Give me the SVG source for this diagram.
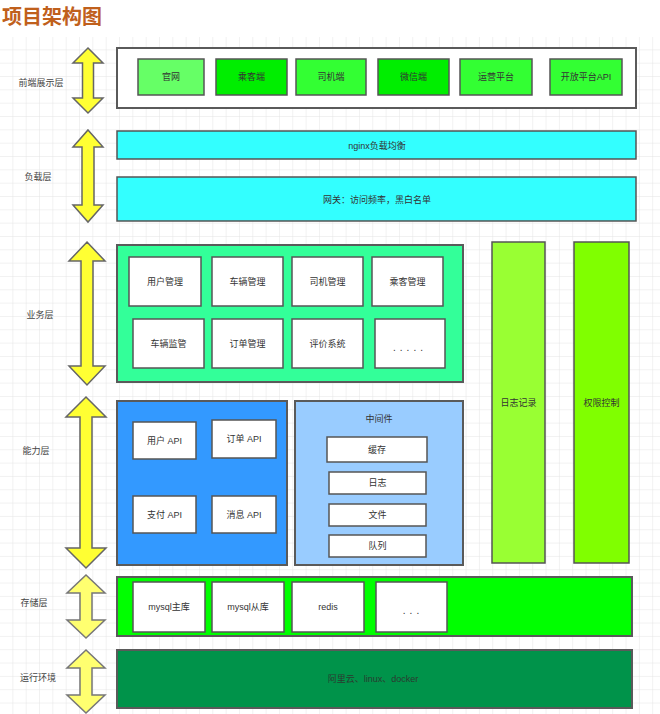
<svg xmlns="http://www.w3.org/2000/svg" width="660" height="714" viewBox="0 0 660 714">
<defs>
<pattern id="grid" x="0" y="37" width="13.33" height="13.33" patternUnits="userSpaceOnUse">
<path d="M13.33 0V13.33M0 13.33H13.33" fill="none" stroke="#e4e4e4" stroke-width="1"/>
</pattern>
<style>
text{font-family:"Liberation Sans","Noto Sans CJK SC",sans-serif;font-size:9px;fill:#333;text-anchor:middle;dominant-baseline:central}
.lbl{fill:#444}
.box{stroke:#555;stroke-width:1.5}
.outer{stroke:#5a5a5a;stroke-width:2}
.w{fill:#fff}
.arr{fill:#ffff33;stroke:#666;stroke-width:1.5;stroke-linejoin:miter}
.arr2{fill:#ffff70;stroke:#777;stroke-width:1.5}
.dots{font-size:10px;letter-spacing:4px}
.title{font-size:20px;font-weight:bold;fill:#c0601c;text-anchor:start;dominant-baseline:auto}
</style>
</defs>
<rect x="0" y="0" width="660" height="714" fill="#fff"/>
<rect x="0" y="37" width="660" height="677" fill="url(#grid)"/>
<text class="title" x="2" y="24">项目架构图</text>

<g id="layer-labels">
<text class="lbl" x="41" y="83">前端展示层</text>
<text class="lbl" x="38" y="177">负载层</text>
<text class="lbl" x="40" y="315">业务层</text>
<text class="lbl" x="36" y="451">能力层</text>
<text class="lbl" x="34" y="603">存储层</text>
<text class="lbl" x="38" y="678">运行环境</text>
</g>

<g id="arrows">
<polygon class="arr" points="88,48 103,63 93.5,63 93.5,98 103,98 88,113 73,98 82.5,98 82.5,63 73,63"/>
<polygon class="arr" points="88,130 103,147 94,147 94,205 103,205 88,222 73,205 82,205 82,147 73,147"/>
<polygon class="arr" points="87,242 105,261 93,261 93,366 105,366 87,385 69,366 81,366 81,261 69,261"/>
<polygon class="arr" points="86,397 106,417 92,417 92,548 106,548 86,568 66,548 80,548 80,417 66,417"/>
<polygon class="arr2" points="86,575 105,593 92,593 92,620 105,620 86,638 67,620 80,620 80,593 67,593"/>
<polygon class="arr2" points="86,650 105,668 92,668 92,695 105,695 86,713 67,695 80,695 80,668 67,668"/>
</g>

<g id="frontend">
<rect class="outer w" x="117" y="48" width="519" height="60"/>
<g id="guanwang"><rect class="box" x="138" y="59" width="66" height="36" fill="#66ff66"/><text x="171" y="77">官网</text></g>
<g id="chengke"><rect class="box" x="216" y="59" width="71" height="36" fill="#00ee00"/><text x="251.5" y="77">乘客端</text></g>
<g id="siji"><rect class="box" x="296" y="59" width="70" height="36" fill="#33ff33"/><text x="331" y="77">司机端</text></g>
<g id="weixin"><rect class="box" x="378" y="59" width="71" height="36" fill="#00ee00"/><text x="413.5" y="77">微信端</text></g>
<g id="yunying"><rect class="box" x="460" y="59" width="72" height="36" fill="#33ff33"/><text x="496" y="77">运营平台</text></g>
<g id="openapi"><rect class="box" x="550" y="59" width="72" height="36" fill="#33ff33"/><text x="586" y="77">开放平台API</text></g>
</g>

<g id="nginx"><rect class="box" x="117" y="131" width="519" height="28" fill="#33ffff"/><text x="377" y="146">nginx负载均衡</text></g>
<g id="gateway"><rect class="box" x="117" y="177" width="519" height="44" fill="#33ffff"/><text x="377" y="200">网关：访问频率，黑白名单</text></g>

<g id="business">
<rect class="outer" x="117" y="245" width="346" height="137" fill="#33ff99"/>
<g id="yonghu"><rect class="box w" x="129" y="257" width="72" height="49"/><text x="165" y="282">用户管理</text></g>
<g id="cheliang"><rect class="box w" x="212" y="257" width="71" height="49"/><text x="247.5" y="282">车辆管理</text></g>
<g id="sijiguanli"><rect class="box w" x="292" y="257" width="71" height="49"/><text x="327.5" y="282">司机管理</text></g>
<g id="chengkeguanli"><rect class="box w" x="372" y="257" width="71" height="49"/><text x="407.5" y="282">乘客管理</text></g>
<g id="jianguan"><rect class="box w" x="133" y="319" width="71" height="49"/><text x="168.5" y="344">车辆监管</text></g>
<g id="dingdan"><rect class="box w" x="212" y="319" width="71" height="49"/><text x="247.5" y="344">订单管理</text></g>
<g id="pingjia"><rect class="box w" x="292" y="319" width="71" height="49"/><text x="327.5" y="344">评价系统</text></g>
<g id="more1"><rect class="box w" x="375" y="319" width="70" height="49"/><text class="dots" x="410" y="347">.....</text></g>
</g>

<g id="log-bar"><rect class="box" x="492" y="242" width="53" height="321" fill="#99ff33"/><text x="518.5" y="403">日志记录</text></g>
<g id="auth-bar"><rect class="box" x="574" y="242" width="55" height="321" fill="#80ff00"/><text x="601.5" y="403">权限控制</text></g>

<g id="ability">
<rect class="outer" x="117" y="401" width="170" height="164" fill="#3399ff"/>
<g id="userapi"><rect class="box w" x="133" y="422" width="63" height="37"/><text x="164.5" y="441">用户 API</text></g>
<g id="orderapi"><rect class="box w" x="212" y="420" width="64" height="38"/><text x="244" y="439">订单 API</text></g>
<g id="payapi"><rect class="box w" x="133" y="496" width="63" height="37"/><text x="164.5" y="515">支付 API</text></g>
<g id="msgapi"><rect class="box w" x="212" y="496" width="64" height="37"/><text x="244" y="515">消息 API</text></g>
</g>

<g id="middleware">
<rect class="outer" x="295" y="401" width="168" height="164" fill="#99ccff"/>
<text x="379" y="419">中间件</text>
<g id="cache"><rect class="box w" x="327" y="437" width="100" height="25"/><text x="377" y="450">缓存</text></g>
<g id="mwlog"><rect class="box w" x="329" y="472" width="97" height="22"/><text x="377.5" y="483">日志</text></g>
<g id="file"><rect class="box w" x="329" y="504" width="97" height="22"/><text x="377.5" y="515">文件</text></g>
<g id="queue"><rect class="box w" x="329" y="535" width="97" height="22"/><text x="377.5" y="546">队列</text></g>
</g>

<g id="storage">
<rect class="outer" x="117" y="577" width="515" height="59" fill="#00ff00"/>
<g id="mysqlmaster"><rect class="box w" x="133" y="582" width="72" height="50"/><text x="169" y="607">mysql主库</text></g>
<g id="mysqlslave"><rect class="box w" x="212" y="582" width="72" height="50"/><text x="248" y="607">mysql从库</text></g>
<g id="redis"><rect class="box w" x="292" y="582" width="72" height="50"/><text x="328" y="607">redis</text></g>
<g id="more2"><rect class="box w" x="376" y="582" width="71" height="50"/><text class="dots" x="413" y="610">...</text></g>
</g>

<g id="runtime"><rect class="outer" x="117" y="650" width="515" height="58" fill="#00934a"/><text x="373" y="679" style="fill:#2b3a30">阿里云、linux、docker</text></g>
</svg>
